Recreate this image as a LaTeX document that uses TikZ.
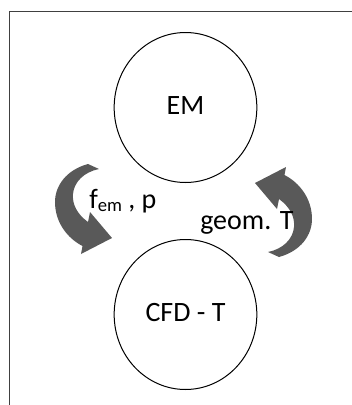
\documentclass[tikz,border=0pt]{standalone}
\usepackage{fontspec}
\setmainfont{Carlito}
\usetikzlibrary{shapes.geometric, positioning}

\definecolor{arrowgray}{RGB}{89,89,89}
\definecolor{framegray}{RGB}{64,64,64}

% bent block arrow: thin tail on top, head pointing to the lower right
\newcommand{\bentarrow}{%
  (88,164) .. controls (66,170) and (55,186) .. (55,202)
  .. controls (55,222) and (67,238) .. (82.5,246)
  -- (81,254) -- (112,238) -- (90,212) -- (88,222)
  .. controls (77,214) and (72,204) .. (73,194)
  .. controls (74,182) and (84,172) .. (99,169) -- cycle}

\begin{document}
\begin{tikzpicture}[
    x=0.75pt, y=-0.75pt,
    bigfont/.style={font=\fontsize{21}{25}\selectfont},
    stage/.style={ellipse, draw, line width=0.75pt, minimum width=107pt, minimum height=112.5pt, bigfont, text depth=0.25em},
    lbl/.style={bigfont, inner sep=0pt, anchor=base west},
    flow/.style={fill=arrowgray},
    frame/.style={draw=framegray, line width=1pt}
]
    \useasboundingbox (0,0) rectangle (352,405);
    \draw[frame] (9.3,405) -- (9.3,11.7) -- (352,11.7);

    \node[stage] (em) at (185.5,107.5) {EM};
    \node[stage, below=42pt of em] (cfd) {CFD - T};

    % the two exchange arrows, second one turned half round
    \fill[flow] \bentarrow;
    \fill[flow, rotate around={180:(183.5,210.5)}] \bentarrow;

    \node[lbl] (fp) at (89,208) {f\raisebox{-2.5pt}{\fontsize{14}{16}\selectfont em} , p};
    \node[lbl] (gt) at (200,229) {geom. T};
\end{tikzpicture}
\end{document}
